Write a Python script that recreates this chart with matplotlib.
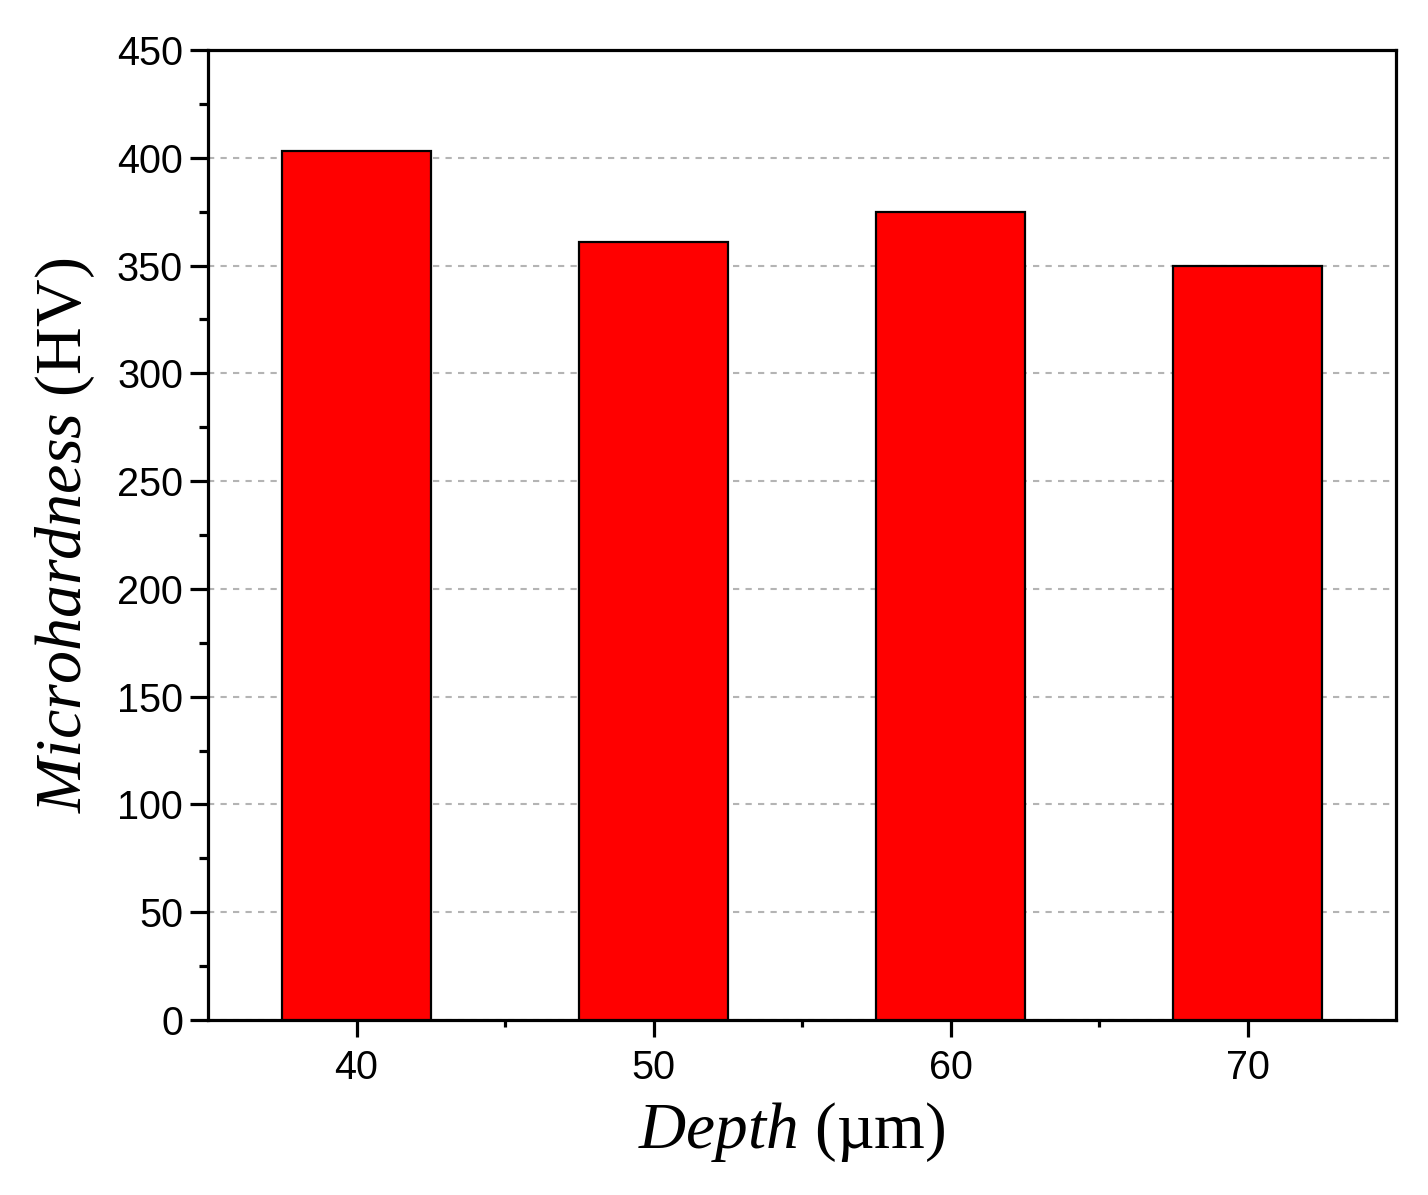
import numpy as np
import matplotlib
matplotlib.use("Agg")
import matplotlib.pyplot as plt
from matplotlib.ticker import MultipleLocator, FixedLocator

depths = ['40', '50', '60', '70']
hardness = [403, 361, 375, 350]

plt.rcParams['mathtext.fontset'] = 'custom'
plt.rcParams['mathtext.it'] = 'Liberation Serif:italic'
plt.rcParams['mathtext.rm'] = 'Liberation Serif'

fig = plt.figure(figsize=(14.28, 11.95), dpi=100)
ax = fig.add_axes([0.1457, 0.1464, 0.8319, 0.8118])

x = np.arange(len(depths))
ax.bar(x, hardness, width=0.5, color='#ff0000', edgecolor='black', linewidth=1.6, zorder=3)

ax.set_xlim(-0.5, len(depths) - 0.5)
ax.set_ylim(0, 450)
ax.set_xticks(x)
ax.set_xticklabels(depths)
ax.xaxis.set_minor_locator(FixedLocator(x[:-1] + 0.5))
ax.yaxis.set_major_locator(MultipleLocator(50))
ax.yaxis.set_minor_locator(MultipleLocator(25))

ax.grid(axis='y', which='major', linestyle=(0, (3, 3)), color='#b4b4b4', linewidth=1.5, zorder=0)

for s in ax.spines.values():
    s.set_linewidth(2.3)

ax.tick_params(axis='y', which='major', direction='out', length=13, width=2.3, labelsize=28.5, pad=5)
ax.tick_params(axis='y', which='minor', direction='out', length=6.5, width=2.3)
ax.tick_params(axis='x', which='major', direction='out', length=12, width=2.3, labelsize=28.5, pad=9)
ax.tick_params(axis='x', which='minor', direction='out', length=5, width=2.3)
for lab in ax.get_xticklabels() + ax.get_yticklabels():
    lab.set_family('Liberation Sans')

ax.set_xlabel(r'$\mathit{Depth}$ (µm)', family='Liberation Serif', fontsize=47, labelpad=8)
ax.xaxis.set_label_coords(0.491, -0.082)
ax.set_ylabel(r'$\mathit{Microhardness}$ (HV)', family='Liberation Serif', fontsize=47.5, labelpad=14)

fig.savefig('out.png', dpi=100)
